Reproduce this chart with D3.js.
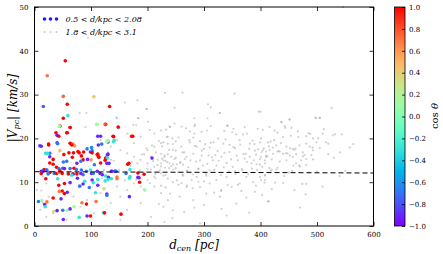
<!DOCTYPE html>
<html>
<head>
<meta charset="utf-8">
<script src="https://cdn.jsdelivr.net/npm/d3@7"></script>
<style>
  body { margin: 0; background: #fff; }
  text { font-family: "DejaVu Serif", "Liberation Serif", serif; fill: #000; }
</style>
</head>
<body>
<div id="chart"></div>
<script>
// near sample (0.5 < d/kpc < 2.08): [d_cen, |V_pc|, cos theta]
var nearX = [9.5,45,63,111,126,149,38,40,43,57,25,40,63,65,68,71,45,77,79,69,87,93,101,99,102,117,119,130,130,140,141,174,
  27,20,52,61,67,57,83,86,82,75,94,100,111,113,126,130,132,117,106,33,33,39,43,50,70,74,83,92,99,21,17,12,27,35,39,43,60,68,75,86,
  101,111,116,126,131,137,144,167,169,169,185,186,112,113,128,140,139,172,112,114,129,129,125,128,165,208,120,136,142,144,162,183,194,
  183,168,146,146,136,130,125,112,112,123,128,128,168,195,109,122,124,153,58,12,25,41,66,102,27,23,27,51,53,63,45,12,15,22,49,41,20,
  68,82,104,102,104,86,80,63,53,43,49,53,58,47,33,7,13,22,18,19,34,40,50,58,63,70,84,92,51,79,93,99,54.5,22.6,51,105,15.6,58,133,59,
  51,110,44,63,125,148,66,89,97,76,108,24,44];
var nearY = [18.3,22.8,22.5,23.2,23.2,22.5,21.3,20.7,20.5,21.3,18.7,19.0,18.9,18.7,18.7,18.3,17.2,17.0,16.7,16.7,16.9,17.6,17.9,16.9,
  17.2,20.5,18.7,19.2,19.5,20.4,19.5,20.5,16.6,16.6,16.3,16.7,15.7,14.8,16.0,15.1,14.8,14.3,15.2,15.1,16.3,15.8,15.5,16.4,14.3,14.4,
  14.0,15.2,14.1,13.4,13.1,13.2,13.2,12.9,12.8,12.5,12.8,12.8,12.9,12.5,12.2,12.0,12.0,12.2,11.9,11.9,11.9,11.7,12.0,12.5,12.0,11.4,
  11.1,12.5,12.5,14.3,12.9,11.3,11.0,10.0,20.5,18.5,19.3,19.3,20.5,20.5,16.4,15.7,16.2,15.5,15.0,14.3,14.1,15.5,11.7,12.5,12.5,12.5,
  12.0,12.1,11.8,11.1,10.9,10.8,11.2,10.8,10.6,10.3,10.6,9.3,8.5,7.3,7.0,6.7,8.2,5.6,3.0,3.0,2.7,21.3,18.2,18.5,18.8,18.5,16.7,15.8,
  16.6,14.4,14.6,13.1,13.1,12.6,12.0,12.5,12.8,12.0,10.8,10.8,11.8,12.0,12.0,10.5,9.9,9.6,9.1,9.9,9.7,9.3,8.0,7.4,7.7,6.2,6.4,5.6,5.8,
  5.5,4.9,4.4,3.3,3.5,3.6,3.6,3.9,4.4,5.3,5.0,1.5,2.0,2.3,2.3,37.7,34.3,29.6,29.5,27.3,27.8,27.3,25.2,24.6,23.2,22.8,22.5,23.2,22.6,
  11.6,10.2,8.8,10.9,7.6,11.9,7.9];
var nearC = [-0.8,1,0.8,0.2,1,-0.3,1,-0.9,1,1,1,-0.9,1,1,0.7,0.6,0.45,1,1,1,1,-0.7,-0.65,-0.9,-0.65,-0.9,-0.7,-0.9,0.1,1,-0.3,1,
  -0.7,-0.35,1,1,1,-0.7,1,1,-0.7,-0.9,-0.9,0.6,1,1,1,-0.9,-0.9,1,-0.7,1,1,1,-0.7,-0.7,1,-0.7,-0.7,-0.7,-0.3,-0.9,1,-0.9,1,-0.7,1,0.7,
  1,1,1,-0.7,-0.9,-0.9,-0.9,-0.3,-0.9,-0.9,-0.9,1,-0.3,-0.3,1,1,-0.9,-0.9,0.1,-0.3,1,1,1,1,-0.9,-0.3,1,-0.9,1,-0.9,-0.9,-0.9,-0.9,-0.7,
  -0.7,1,1,-0.9,-0.3,0.7,0.7,-0.3,-0.3,-0.3,-0.3,-0.9,0.35,-0.9,-0.7,-0.9,0.1,0.7,-0.3,1,1,1,-0.9,1,-0.7,1,1,-0.9,-0.3,1,-0.7,-0.9,
  -0.7,1,1,-0.9,-0.7,1,-0.3,1,-0.9,-0.9,-0.7,-0.9,-0.3,-0.9,-0.7,-0.9,1,1,1,1,-0.9,-0.9,1,-0.7,0.1,0.7,-0.9,-0.3,0.3,-0.9,-0.7,0.1,
  -0.9,0.15,0.7,1,-0.9,-0.3,-0.9,1,1,0.7,0.75,0.45,-0.75,1,1,-0.3,1,0.15,0.15,1,0.8,1,-0.3,-0.3,-0.7,-0.9,-0.3,-0.7,0.7,1];

// far sample (1.8 < d/kpc < 3.1): [d_cen, |V_pc|]
var farX = [328,397,283,341,224,240,234,244,228,236,245,255,260,275,281,293,287,302,310,317,325,334,345,357,369,376,363,381,389,399,406,
  410,374,381,388,399,410,376,384,393,399,408,224,230,236,242,248,228,235,239,245,252,258,263,224,231,238,269,276,281,293,298,308,316,
  322,331,340,351,360,367,228,236,245,255,224,263,269,278,287,293,304,310,322,331,340,349,363,375,387,399,408,240,257,281,304,328,357,
  375,228,245,283,331,230,244,293,497,505,437,452,443,416,401,413,424,440,454,467,481,493,502,510,532,544,516,520,564,558,541,404,416,
  428,434,446,457,469,481,487,499,493,475,463,452,440,422,410,401,408,420,434,446,457,472,481,493,463,481,403,416,428,408,401,407,403,
  413,481,540,15,21,12,25,15,10,21,33,57,69,81,93,105,117,135,146,152,164,176,188,200,212,224,117,135,152,164,176,182,188,200,206,212,
  218,224,230,200,212,224,176,188,212,236,248,260,283,164,146,135,123,57,4,212,224,236,188,164,206,152,94.6,80,92,160,182,198,231,248,
  262,283,184,145,239,90,354,307,312,328,400,526,306,437,451,499,505,342,199,146,183,201,175,180,233,
  250,265,300,320,345,355,370,390,415,430,445,460,475,490,505,520,530,250,270,290,310,335,355,385,420,450,470,500,260,280,300,330,360,
  390,420,440,460,480,510,215,245,275,305,350,395,425,455,485,220,265,300,340,380,415,470,550,200,190,170,160,150,140,130,120,
  210,218,226,232,242,250,258,266,272,286,296,306,314,326,336,348,358,372,380,392,402,412,422,432,448,462,478,492,206,214,222,
  232,246,254,262,270,280,290,304,318,330,344,356,368,378,394,408,418,430,442,456,468,486,198,208,220,226,238,250,262,274,284,
  296,312,324,338,352,364,386,396,418,436,452,474,180,194,204,214,232,252,270,290,318,342,366,392,426,458,172,186,194,204,268,
  284,296,312,336,352,372,404,430,444,466,488,512,528,546];
var farY = [25.8,26.1,22.8,22.9,21.8,22.6,20.3,20.0,19.1,18.8,18.7,20.2,18.1,19.1,20.2,19.4,18.1,18.7,17.9,19.1,20.0,18.8,18.5,20.9,20.9,
  21.1,19.6,18.8,18.7,19.1,17.7,17.0,16.5,15.8,15.0,15.3,15.8,14.6,14.3,14.1,14.0,14.3,16.5,16.1,16.4,15.8,15.3,15.0,14.6,14.3,14.1,14.1,
  14.4,14.0,13.6,13.3,13.2,15.8,15.0,16.5,15.0,13.8,16.1,15.0,13.8,15.8,14.4,13.5,15.0,13.0,11.5,10.8,10.0,9.4,9.2,11.5,8.9,10.5,11.2,
  8.9,11.5,9.7,10.5,8.2,11.2,8.9,9.7,11.2,10.0,11.2,10.5,7.4,6.7,5.9,7.4,6.7,5.1,6.5,4.4,3.6,4.2,3.9,0.9,1.8,0.6,24.7,24.7,23.7,24.3,
  22.8,22.6,20.0,19.1,19.6,20.3,20.6,20.3,20.5,20.0,20.0,21.1,20.9,20.9,19.1,18.8,18.7,17.9,16.8,17.3,17.4,18.4,17.0,18.1,17.6,18.4,
  18.8,18.1,19.1,17.3,16.8,16.4,16.1,16.5,16.5,16.1,15.8,15.0,15.2,14.7,15.0,15.8,15.0,15.3,15.2,14.3,13.9,13.5,13.2,12.9,11.5,10.5,
  9.9,7.1,5.6,9.6,11.4,11.3,9.7,8.1,6.7,5.2,3.7,2.1,2.9,1.4,6.7,4.4,5.9,2.9,7.5,5.2,9.0,6.7,8.2,9.7,9.0,10.5,11.3,12.0,19.6,18.1,17.3,
  16.6,15.8,14.3,15.1,14.3,15.8,13.5,15.1,14.3,15.8,17.3,18.1,18.9,18.9,20.4,21.1,20.4,23.4,22.7,21.1,21.1,19.6,15.1,12.8,12.0,8.2,9.0,
  7.5,5.9,5.2,3.7,2.1,1.4,43.0,25.8,25.8,28.2,28.7,26.7,30.4,27.0,30.4,24.6,24.6,24.8,22.7,22.6,30.2,27.8,27.1,25.8,26.1,26.9,24.6,23.7,
  24.3,24.6,24.7,22.9,26.7,24.6,24.6,23.8,23.1,23.0,22.0,
  17.2,16.8,17.6,16.2,16.9,17.8,16.4,17.2,18.2,17.0,16.6,17.4,15.9,16.2,17.8,16.4,15.6,13.2,12.6,13.0,12.7,13.4,12.5,13.1,12.9,12.2,
  13.6,12.4,9.8,8.6,10.2,8.0,9.4,7.8,8.4,9.8,8.2,7.2,9.0,16.8,17.4,21.6,21.8,21.4,22.2,21.8,22.4,21.2,5.0,3.2,4.8,2.4,3.0,5.6,4.2,12.6,
  13.0,16.3,13.7,10.4,12.8,14.9,16.8,10.9,
  14.8,13.9,15.4,14.9,13.7,15.6,14.6,15.3,13.4,14.7,16.1,14.2,15.7,14.9,16.7,15.2,16.1,15.4,17.6,16.3,16.9,15.9,17.9,17.1,16.6,17.7,
  16.2,17.9,12.9,11.9,12.7,11.6,12.9,12.3,11.7,12.6,11.8,13.1,11.9,12.8,11.6,12.4,11.9,12.7,11.8,12.8,11.7,12.6,13.3,11.4,12.6,13.8,
  12.2,17.7,18.4,19.4,18.2,17.4,19.3,16.8,19.6,18.3,17.2,19.0,17.1,19.8,18.0,18.6,19.5,17.5,19.3,18.9,17.7,9.6,10.6,8.4,9.8,10.9,8.8,
  10.4,9.2,10.1,7.6,9.4,8.0,9.2,9.9,13.8,14.6,12.7,16.4,21.9,22.3,23.1,21.5,22.8,21.7,22.2,22.6,21.9,21.3,22.4,21.6,21.0,22.1,20.7];

var xTicks = [0, 100, 200, 300, 400, 500, 600];
var yTicks = [0, 10, 20, 30, 40, 50];
var cTicks = [-1.0, -0.8, -0.6, -0.4, -0.2, 0.0, 0.2, 0.4, 0.6, 0.8, 1.0];
var fitX = [0, 600];
var fitY = [12.4, 12.1];

var svgWidth = 443, svgHeight = 254;
var margin = { top: 7, left: 34.5, right: 69.5, bottom: 28 };
var width = svgWidth - margin.left - margin.right;
var height = svgHeight - margin.top - margin.bottom;

var svg = d3.select("#chart").append("svg")
    .attr("width", svgWidth)
    .attr("height", svgHeight);

var chartGroup = svg.append("g")
    .attr("transform", `translate(${margin.left}, ${margin.top})`);

var xScale = d3.scaleLinear().domain([0, 600]).range([0, width]);
var yScale = d3.scaleLinear().domain([0, 50]).range([height, 0]);

// matplotlib "rainbow"
function rainbow(t) {
    var r = Math.min(1, Math.abs(2 * t - 0.5));
    var g = Math.sin(Math.PI * t);
    var b = Math.cos(Math.PI * t / 2);
    return d3.rgb(r * 255, g * 255, b * 255) + "";
}
var cScale = d3.scaleSequential(rainbow).domain([-1, 1]);

// far points (grey)
var far = farX.map((x, i) => ({ x: x, y: farY[i] }));
chartGroup.append("g").selectAll("circle").data(far).enter()
    .append("circle")
    .attr("cx", d => xScale(d.x))
    .attr("cy", d => yScale(d.y))
    .attr("r", 1.1)
    .attr("fill", "#999")
    .attr("opacity", 0.45);

// near points coloured by cos theta
var near = nearX.map((x, i) => ({ x: x, y: nearY[i], c: nearC[i] }));
chartGroup.append("g").selectAll("circle").data(near).enter()
    .append("circle")
    .attr("cx", d => xScale(d.x))
    .attr("cy", d => yScale(d.y))
    .attr("r", 1.8)
    .attr("fill", d => cScale(d.c));

// dashed fit line
chartGroup.append("line")
    .attr("x1", xScale(fitX[0])).attr("y1", yScale(fitY[0]))
    .attr("x2", xScale(fitX[1])).attr("y2", yScale(fitY[1]))
    .attr("stroke", "#000")
    .attr("stroke-width", 1)
    .attr("stroke-dasharray", "5,3");

// axes: ticks inward on all four sides
var tickLen = 4;
chartGroup.append("g")
    .attr("transform", `translate(0, ${height})`)
    .call(d3.axisBottom(xScale).tickValues(xTicks).tickSize(-tickLen).tickPadding(6).tickFormat(d3.format("d")));
chartGroup.append("g")
    .call(d3.axisTop(xScale).tickValues(xTicks).tickSize(-tickLen).tickFormat(""));
chartGroup.append("g")
    .call(d3.axisLeft(yScale).tickValues(yTicks).tickSize(-tickLen).tickPadding(6).tickFormat(d3.format("d")));
chartGroup.append("g")
    .attr("transform", `translate(${width}, 0)`)
    .call(d3.axisRight(yScale).tickValues(yTicks).tickSize(-tickLen).tickFormat(""));

chartGroup.selectAll(".domain").remove();
chartGroup.selectAll(".tick line").attr("stroke", "#000").attr("stroke-width", 0.8);
chartGroup.selectAll(".tick text").attr("font-size", "7px")
    .style("font-family", "'DejaVu Serif', serif");

chartGroup.append("rect")
    .attr("width", width).attr("height", height)
    .attr("fill", "none").attr("stroke", "#000").attr("stroke-width", 1);

// axis labels
chartGroup.append("text")
    .attr("x", width / 2 - 10)
    .attr("y", height + 23)
    .attr("text-anchor", "middle")
    .attr("font-size", "12px")
    .attr("font-style", "italic")
    .html("d<tspan font-size='8px' dy='2'>cen</tspan><tspan dy='-2'> [pc]</tspan>");

svg.append("text")
    .attr("transform", "translate(17, 108) rotate(-90)")
    .attr("text-anchor", "middle")
    .attr("font-size", "12px")
    .attr("font-style", "italic")
    .html("|V<tspan font-size='8px' dy='2'>pc</tspan><tspan dy='-2'>| [km/s]</tspan>");

// legend
var legend = chartGroup.append("g");
var legendDots = [-6, 0, 6];
legend.selectAll(".ln").data(legendDots).enter().append("circle")
    .attr("cx", d => 16 + d).attr("cy", 12)
    .attr("r", 1.8).attr("fill", "#1a1aff");
legend.selectAll(".lf").data(legendDots).enter().append("circle")
    .attr("cx", d => 16 + d).attr("cy", 25)
    .attr("r", 1).attr("fill", "#aaa").attr("opacity", 0.6);
legend.append("text").attr("x", 31).attr("y", 15)
    .attr("font-size", "8px").attr("font-style", "italic")
    .text("0.5 < d/kpc < 2.08");
legend.append("text").attr("x", 31).attr("y", 28)
    .attr("font-size", "8px").attr("font-style", "italic")
    .text("1.8 < d/kpc < 3.1");

// colorbar
var cbX = 394.5, cbW = 10.5;
var cbScale = d3.scaleLinear().domain([-1, 1]).range([margin.top + height, margin.top]);
var defs = svg.append("defs");
var grad = defs.append("linearGradient").attr("id", "cbgrad")
    .attr("x1", 0).attr("y1", 1).attr("x2", 0).attr("y2", 0);
d3.range(0, 1.0001, 0.05).forEach(function (t) {
    grad.append("stop").attr("offset", t).attr("stop-color", rainbow(t));
});
svg.append("rect")
    .attr("x", cbX).attr("y", margin.top)
    .attr("width", cbW).attr("height", height)
    .attr("fill", "url(#cbgrad)")
    .attr("stroke", "#000").attr("stroke-width", 0.8);

var cbAxis = svg.append("g")
    .attr("transform", `translate(${cbX + cbW}, 0)`)
    .call(d3.axisRight(cbScale).tickValues(cTicks).tickSize(-3).tickPadding(4)
        .tickFormat(d => d3.format(".1f")(d).replace("-", "\u2212")));
cbAxis.select(".domain").remove();
cbAxis.selectAll(".tick line").attr("stroke", "#000").attr("stroke-width", 0.8);
cbAxis.selectAll(".tick text").attr("font-size", "7px")
    .style("font-family", "'DejaVu Serif', serif");

svg.append("text")
    .attr("transform", "translate(438, 116) rotate(-90)")
    .attr("text-anchor", "middle")
    .attr("font-size", "10px")
    .html("cos <tspan font-style='italic'>θ</tspan>");
</script>
</body>
</html>
